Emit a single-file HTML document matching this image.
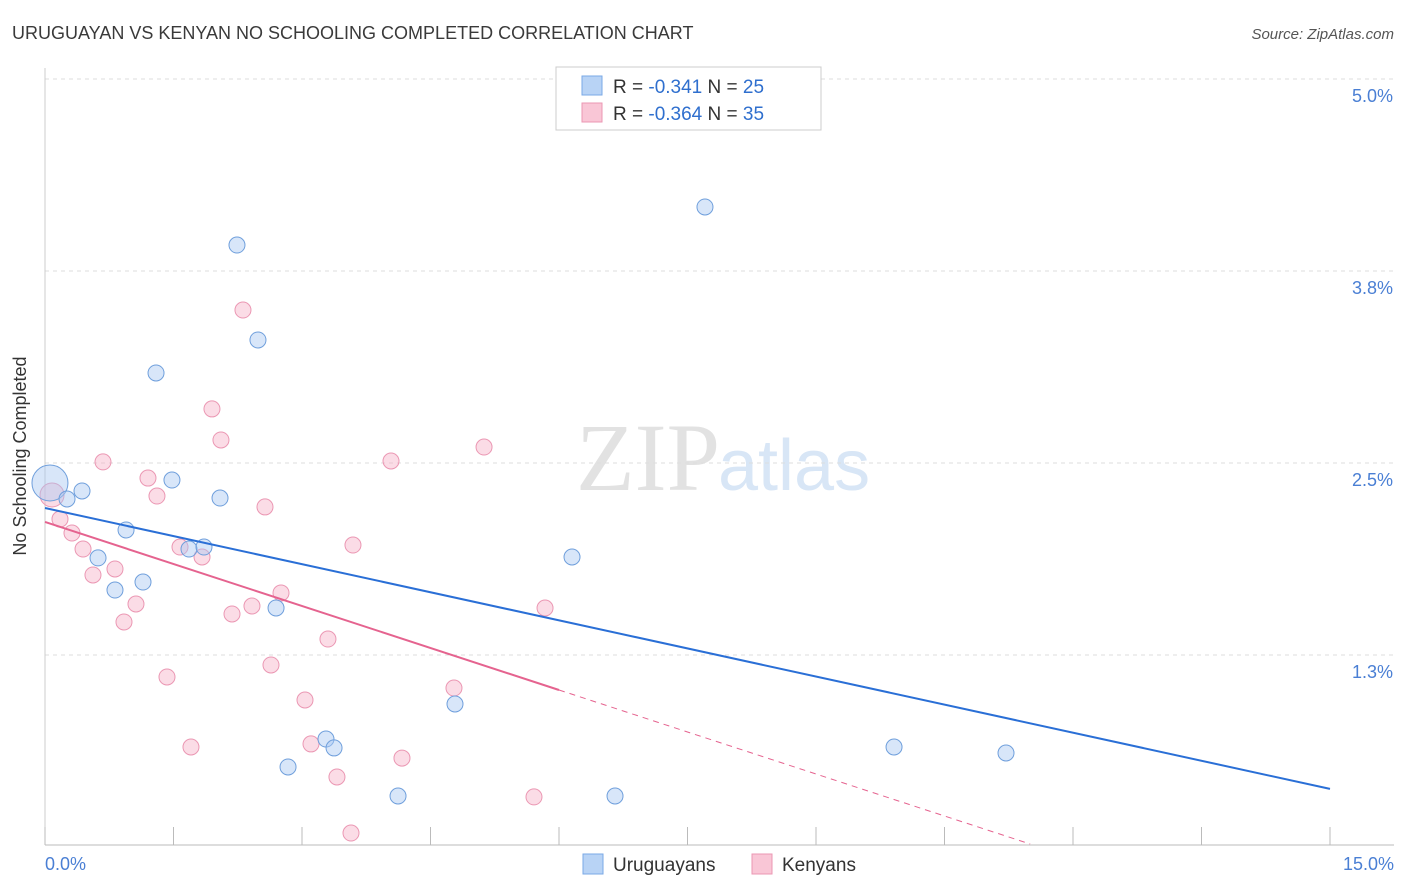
<!DOCTYPE html>
<html><head><meta charset="utf-8">
<style>
body{margin:0;background:#fff;font-family:"Liberation Sans",sans-serif;}
#wrap{position:relative;width:1406px;height:892px;overflow:hidden;}
</style></head>
<body>
<div id="wrap">
<svg id="svg" width="1406" height="892" xmlns="http://www.w3.org/2000/svg">
<text x="12" y="39" font-size="18" fill="#3a3a3a">URUGUAYAN VS KENYAN NO SCHOOLING COMPLETED CORRELATION CHART</text>
<text x="1394" y="39" font-size="15" fill="#555" font-style="italic" text-anchor="end">Source: ZipAtlas.com</text>
<text x="720" y="490" font-size="96" fill="#e2e2e2" font-family="Liberation Serif,serif" text-anchor="end">ZIP</text>
<text x="718" y="490" font-size="72" fill="#d8e6f6">atlas</text>
<g id="grid"></g>
<g id="axes"></g>
<g id="marks"></g>
<g>
<rect x="556" y="67" width="265" height="63" fill="#fff" stroke="#ccc"/>
<rect x="582" y="76" width="20" height="19" fill="#b8d3f5" stroke="#7aa8e6"/>
<rect x="582" y="103" width="20" height="19" fill="#f9c6d6" stroke="#eb97b3"/>
<text x="613" y="93" font-size="19" fill="#333">R = <tspan fill="#2f6fce">-0.341</tspan>   N = <tspan fill="#2f6fce">25</tspan></text>
<text x="613" y="120" font-size="19" fill="#333">R = <tspan fill="#2f6fce">-0.364</tspan>   N = <tspan fill="#2f6fce">35</tspan></text>
</g>
<g>
<rect x="583" y="854" width="20" height="20" fill="#b8d3f5" stroke="#7aa8e6"/>
<text x="613" y="871" font-size="19" fill="#333">Uruguayans</text>
<rect x="752" y="854" width="20" height="20" fill="#f9c6d6" stroke="#eb97b3"/>
<text x="782" y="871" font-size="19" fill="#333">Kenyans</text>
</g>
<text x="26" y="456" font-size="18" fill="#333" text-anchor="middle" transform="rotate(-90 26 456)">No Schooling Completed</text>
</svg>
</div>
<script>
const xTicks=[0,1.5,3,4.5,6,7.5,9,10.5,12,13.5,15];
const yTicks=[1.25,2.5,3.75,5.0];
const yTickLabels=["1.3%","2.5%","3.8%","5.0%"];
const xTickLabels=["0.0%","15.0%"];
const uruX=[0.058,0.257,0.432,0.619,0.817,0.946,1.144,1.296,1.482,1.681,1.856,2.043,2.241,2.486,2.697,2.837,3.280,3.374,4.121,4.786,6.152,6.654,7.704,9.911,11.218];
const uruY=[2.370,2.266,2.318,1.882,1.673,2.064,1.725,3.086,2.389,1.940,1.953,2.272,3.919,3.301,1.556,0.521,0.703,0.645,0.332,0.931,1.888,0.332,4.167,0.651,0.612];
const kenX=[0.082,0.175,0.315,0.444,0.560,0.677,0.817,0.922,1.062,1.202,1.307,1.424,1.576,1.704,1.833,1.949,2.054,2.183,2.311,2.416,2.568,2.638,2.755,3.035,3.105,3.303,3.408,3.572,3.595,4.039,4.167,4.774,5.125,5.708,5.837];
const kenY=[2.292,2.135,2.044,1.940,1.771,2.507,1.810,1.465,1.582,2.402,2.285,1.107,1.953,0.651,1.888,2.852,2.650,1.517,3.496,1.569,2.214,1.185,1.654,0.957,0.671,1.354,0.456,0.091,1.966,2.513,0.579,1.035,2.604,0.326,1.556];
const uruTrend=[2.207,-0.1219];
const kenTrend=[2.116,-0.1823];
const NS="http://www.w3.org/2000/svg";
const X=v=>45+v*(1285/15);
const Y=v=>847-v*153.6;
function mk(tag,attrs,parent){const e=document.createElementNS(NS,tag);for(const k in attrs)e.setAttribute(k,attrs[k]);document.getElementById(parent).appendChild(e);return e;}
yTicks.forEach((t,i)=>{
 const l=mk('line',{x1:45,x2:1394,y1:Y(t),y2:Y(t),stroke:'#ddd','stroke-dasharray':'4,4'},'grid');
 
 
 const tx=mk('text',{x:1393,y:Y(t)+23,'font-size':18,fill:'#4a7fd4','text-anchor':'end'},'axes');
 tx.textContent=yTickLabels[i];
 
 
});
const ax=mk('line',{x1:45,x2:1394,y1:845,y2:845,stroke:'#bbb'},'axes');


const ay=mk('line',{x1:45,x2:45,y1:68,y2:845,stroke:'#ccc'},'axes');


xTicks.forEach(t=>{
 const l=mk('line',{x1:X(t),x2:X(t),y1:827,y2:845,stroke:'#bbb'},'axes');
 
 
});
const xl0=mk('text',{x:45,y:870,'font-size':18,fill:'#4a7fd4'},'axes');
xl0.textContent=xTickLabels[0];


const xl1=mk('text',{x:1394,y:870,'font-size':18,fill:'#4a7fd4','text-anchor':'end'},'axes');
xl1.textContent=xTickLabels[1];


kenX.forEach((x,i)=>{
 const c=mk('circle',{cx:X(x),cy:Y(kenY[i]),r:i===0?12:8,fill:'rgba(246,178,200,0.45)',stroke:'#eb97b3','stroke-width':1},'marks');
 
 
});
uruX.forEach((x,i)=>{
 const c=mk('circle',{cx:X(x),cy:Y(uruY[i]),r:i===0?18:8,fill:'rgba(168,200,242,0.45)',stroke:'#6f9fdc','stroke-width':1},'marks');
 
 
});
const bt=mk('line',{x1:X(0),y1:Y(uruTrend[0]),x2:X(15),y2:Y(uruTrend[0]+uruTrend[1]*15),stroke:'#2a6fd6','stroke-width':2},'marks');


const pt=mk('line',{x1:X(0),y1:Y(kenTrend[0]),x2:X(6),y2:Y(kenTrend[0]+kenTrend[1]*6),stroke:'#e5638f','stroke-width':2},'marks');


const pd=mk('line',{x1:X(6),y1:Y(kenTrend[0]+kenTrend[1]*6),x2:X(11.5),y2:Y(kenTrend[0]+kenTrend[1]*11.5),stroke:'#e5638f','stroke-width':1,'stroke-dasharray':'6,5'},'marks');


</script>
</body></html>
